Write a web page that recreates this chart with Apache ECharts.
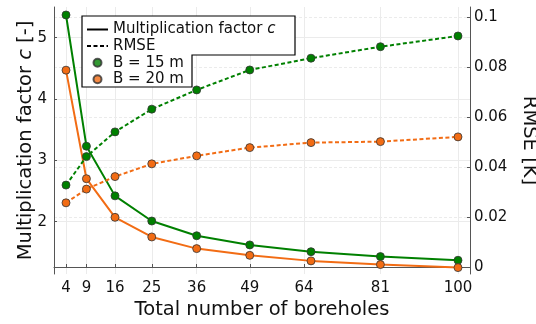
<!DOCTYPE html>
<html>
<head>
<meta charset="utf-8">
<script src="https://cdn.jsdelivr.net/npm/echarts@6/dist/echarts.min.js"></script>
<style>
  html, body { margin: 0; padding: 0; background: #fff; }
  #chart { width: 536px; height: 324px; }
</style>
</head>
<body>
<div id="chart"></div>
<script>
// data
const boreholes = [4, 9, 16, 25, 36, 49, 64, 81, 100];
const factorB15 = [5.37, 3.23, 2.42, 2.01, 1.77, 1.62, 1.51, 1.43, 1.37];
const factorB20 = [4.47, 2.70, 2.07, 1.75, 1.56, 1.45, 1.36, 1.30, 1.25];
const rmseB15 = [0.0328, 0.0442, 0.0541, 0.0632, 0.0709, 0.0789, 0.0836, 0.0882, 0.0925];
const rmseB20 = [0.0257, 0.0312, 0.0362, 0.0413, 0.0445, 0.0478, 0.0498, 0.0502, 0.0521];

// tick marks (the "64" tick sits a little left of the 64 points in the original)
const xTickValues = [4, 9, 16, 25, 36, 49, 62.3, 81, 100];
const xTickLabels = ['4', '9', '16', '25', '36', '49', '64', '81', '100'];
const leftTicks = [2, 3, 4, 5];
const rightTicks = [0, 0.02, 0.04, 0.06, 0.08, 0.1];
const rightTickLabels = ['0', '0.02', '0.04', '0.06', '0.08', '0.1'];

const FONT = 'DejaVu Sans';
const GREEN = '#008000';
const ORANGE = '#f26c14';
const AXIS = '#555';
const GRIDC = '#ebebeb';

const pairs = (ys) => boreholes.map((x, i) => [x, ys[i]]);

const chart = echarts.init(document.getElementById('chart'));

const lineSeries = (name, ys, color, yIdx, dashed) => ({
  name: name,
  type: 'line',
  yAxisIndex: yIdx,
  data: pairs(ys),
  symbol: 'circle',
  symbolSize: 8,
  showSymbol: true,
  lineStyle: { color: color, width: 2, type: dashed ? [4, 2.5] : 'solid' },
  itemStyle: { color: color, borderColor: '#333', borderWidth: 0.8 },
  emphasis: { disabled: true },
  z: 3
});

const options = {
  animation: false,
  grid: { left: 54, right: 66, top: 7, bottom: 50, outerBoundsMode: 'none' },
  legend: {
    orient: 'vertical',
    left: 86,
    top: 22,
    padding: 0,
    itemWidth: 21,
    itemHeight: 8,
    itemGap: 1.6,
    selectedMode: false,
    data: [
      { name: 'Multiplication factor c', itemStyle: { opacity: 0 } },
      { name: 'RMSE', itemStyle: { opacity: 0 } },
      'B = 15 m',
      'B = 20 m'
    ],
    formatter: (name) => name === 'Multiplication factor c' ? '{n|Multiplication factor }{i|c}' : '{n|' + name + '}',
    textStyle: {
      color: '#111',
      fontFamily: FONT,
      fontSize: 15,
      rich: {
        n: { fontFamily: FONT, fontSize: 15, color: '#111' },
        i: { fontFamily: FONT, fontSize: 15, color: '#111', fontStyle: 'italic' }
      }
    },
    z: 10
  },
  graphic: [{
    type: 'polygon',
    shape: { points: [[82, 16], [295, 16], [295, 55], [192, 55], [192, 87], [82, 87]] },
    style: { fill: '#fff', stroke: '#000', lineWidth: 1.2 },
    z: 5
  }],
  xAxis: {
    type: 'value',
    min: 1.06,
    max: 102.94,
    name: 'Total number of boreholes',
    nameLocation: 'middle',
    nameGap: 26,
    nameMoveOverlap: false,
    nameTextStyle: { fontFamily: FONT, fontSize: 19.5, color: '#111' },
    axisLine: { show: true, lineStyle: { color: AXIS, width: 1 } },
    axisTick: { show: true, inside: true, length: 3, customValues: xTickValues, lineStyle: { color: AXIS } },
    axisLabel: {
      customValues: xTickValues,
      formatter: (v) => xTickLabels[xTickValues.indexOf(v)],
      fontFamily: FONT, fontSize: 15, color: '#111', margin: 7
    },
    splitLine: { show: true, lineStyle: { color: GRIDC, width: 1 } }
  },
  yAxis: [{
    type: 'value',
    position: 'left',
    min: 1.146,
    max: 5.5,
    name: 'Multiplication factor {i|c} [-]',
    nameLocation: 'middle',
    nameGap: 18,
    nameMoveOverlap: false,
    nameTextStyle: {
      fontFamily: FONT, fontSize: 19.5, color: '#111',
      rich: { i: { fontFamily: FONT, fontSize: 19.5, color: '#111', fontStyle: 'italic' } }
    },
    axisLine: { show: true, lineStyle: { color: AXIS, width: 1 } },
    axisTick: { show: true, inside: true, length: 3, customValues: leftTicks, lineStyle: { color: AXIS } },
    axisLabel: { customValues: leftTicks, fontFamily: FONT, fontSize: 15, color: '#111', margin: 7 },
    splitLine: { show: true, lineStyle: { color: GRIDC, width: 1 } }
  }, {
    type: 'value',
    position: 'right',
    min: -0.0028,
    max: 0.1041,
    name: 'RMSE [K]',
    nameLocation: 'middle',
    nameRotate: -90,
    nameGap: 49,
    nameTextStyle: { fontFamily: FONT, fontSize: 19.5, color: '#111' },
    axisLine: { show: true, lineStyle: { color: AXIS, width: 1 } },
    axisTick: { show: true, inside: true, length: 3, customValues: rightTicks, lineStyle: { color: AXIS } },
    axisLabel: {
      customValues: rightTicks,
      formatter: (v) => rightTickLabels[rightTicks.indexOf(v)],
      fontFamily: FONT, fontSize: 15, color: '#111', margin: 4
    },
    splitLine: { show: true, lineStyle: { color: GRIDC, width: 1, type: [3, 2] } }
  }],
  series: [
    lineSeries('cB15', factorB15, GREEN, 0, false),
    lineSeries('cB20', factorB20, ORANGE, 0, false),
    lineSeries('rB15', rmseB15, GREEN, 1, true),
    lineSeries('rB20', rmseB20, ORANGE, 1, true),
    // legend-only entries
    { name: 'Multiplication factor c', type: 'line', data: [], symbol: 'none', lineStyle: { color: '#000', width: 2 }, itemStyle: { color: '#000' } },
    { name: 'RMSE', type: 'line', data: [], symbol: 'none', lineStyle: { color: '#000', width: 2, type: [4, 2.5] }, itemStyle: { color: '#000' } },
    { name: 'B = 15 m', type: 'scatter', data: [], symbol: 'circle', itemStyle: { color: GREEN, borderColor: '#333', borderWidth: 0.8 } },
    { name: 'B = 20 m', type: 'scatter', data: [], symbol: 'circle', itemStyle: { color: ORANGE, borderColor: '#333', borderWidth: 0.8 } }
  ]
};

chart.setOption(options);
</script>
</body>
</html>
